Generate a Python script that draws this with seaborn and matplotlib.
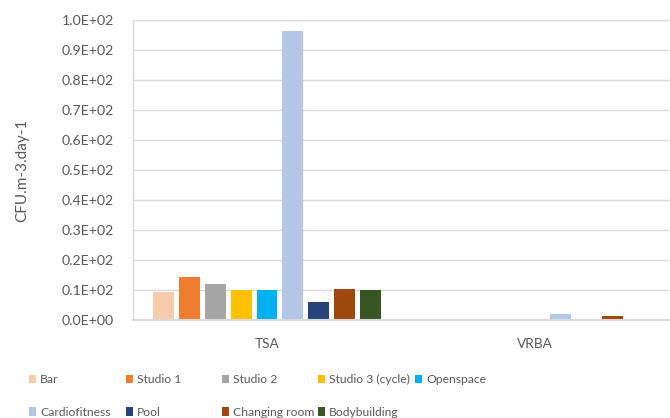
import matplotlib
matplotlib.use("Agg")
import matplotlib.pyplot as plt
import seaborn as sns
import pandas as pd

# Media and sampling areas
media = ["TSA", "VRBA"]
areas = ["Bar", "Studio 1", "Studio 2", "Studio 3 (cycle)", "Openspace",
         "Cardiofitness", "Pool", "Changing room", "Bodybuilding"]

# Airborne counts per area (CFU.m-3.day-1), one list per medium
tsa_values = [9.3, 14.4, 12.0, 10.0, 10.0, 96.5, 6.0, 10.2, 10.0]
vrba_values = [0.0, 0.0, 0.0, 0.0, 0.0, 2.0, 0.0, 1.4, 0.0]

y_ticks = [0, 10, 20, 30, 40, 50, 60, 70, 80, 90, 100]
y_tick_labels = ["0.0E+00", "0.1E+02", "0.2E+02", "0.3E+02", "0.4E+02", "0.5E+02",
                 "0.6E+02", "0.7E+02", "0.8E+02", "0.9E+02", "1.0E+02"]

colors = ["#F8CBAD", "#ED7D31", "#A5A5A5", "#FFC000", "#00B0F0",
          "#B4C7E7", "#264478", "#9E480E", "#375623"]

rows = []
for medium, vals in zip(media, [tsa_values, vrba_values]):
    for area, v in zip(areas, vals):
        rows.append({"medium": medium, "area": area, "value": v})
df = pd.DataFrame(rows)

sns.set_theme(style="white")
plt.rcParams["font.family"] = ["Lato", "DejaVu Sans"]
text_color = "#595959"
grid_color = "#D9D9D9"

fig = plt.figure(figsize=(6.70, 4.18), dpi=100)
ax = fig.add_axes([133 / 670, 1 - 320 / 418, (669 - 133) / 670, 300 / 418])

sns.barplot(data=df, x="medium", y="value", hue="area", order=media,
            hue_order=areas, palette=colors, width=0.87, gap=0.19,
            saturation=1, linewidth=0, ax=ax, errorbar=None)

ax.set_xlim(-0.5, 1.5)
ax.set_ylim(0, 100)
ax.set_yticks(y_ticks)
ax.set_yticklabels(y_tick_labels)
ax.yaxis.grid(True, color=grid_color, linewidth=1)
ax.set_axisbelow(True)

for side in ["top", "right"]:
    ax.spines[side].set_visible(False)
ax.spines["left"].set_color(grid_color)
ax.spines["left"].set_linewidth(1)
ax.spines["bottom"].set_color(grid_color)
ax.spines["bottom"].set_linewidth(1.5)

ax.tick_params(axis="y", length=5, color=grid_color, labelsize=10.2,
               labelcolor=text_color, pad=9)
ax.tick_params(axis="x", which="major", length=0, labelsize=9.8,
               labelcolor=text_color, pad=13)
ax.set_xticks([0.5], minor=True)
ax.tick_params(axis="x", which="minor", length=5, color=grid_color, width=1)

ax.set_xlabel("")
ax.set_ylabel("CFU.m-3.day-1", fontsize=11, color=text_color)
ax.yaxis.set_label_coords(-0.193, 0.5)

# Legend laid out as equal-width columns below the axes
handles, labels = ax.get_legend_handles_labels()
ax.get_legend().remove()
lookup = dict(zip(labels, handles))
columns = [["Bar", "Cardiofitness"], ["Studio 1", "Pool"],
           ["Studio 2", "Changing room"], ["Studio 3 (cycle)", "Bodybuilding"],
           ["Openspace"]]
col_x = [29, 126, 222, 318, 415]
for names, x in zip(columns, col_x):
    fig.legend([lookup[n] for n in names], names, loc="upper left",
               bbox_to_anchor=(x / 670, 1 - 374 / 418), frameon=False,
               borderpad=0, borderaxespad=0, handlelength=0.62,
               handleheight=0.67, handletextpad=0.3, labelspacing=1.8,
               fontsize=8.7, labelcolor=text_color)

fig.savefig("out.png", dpi=100)
